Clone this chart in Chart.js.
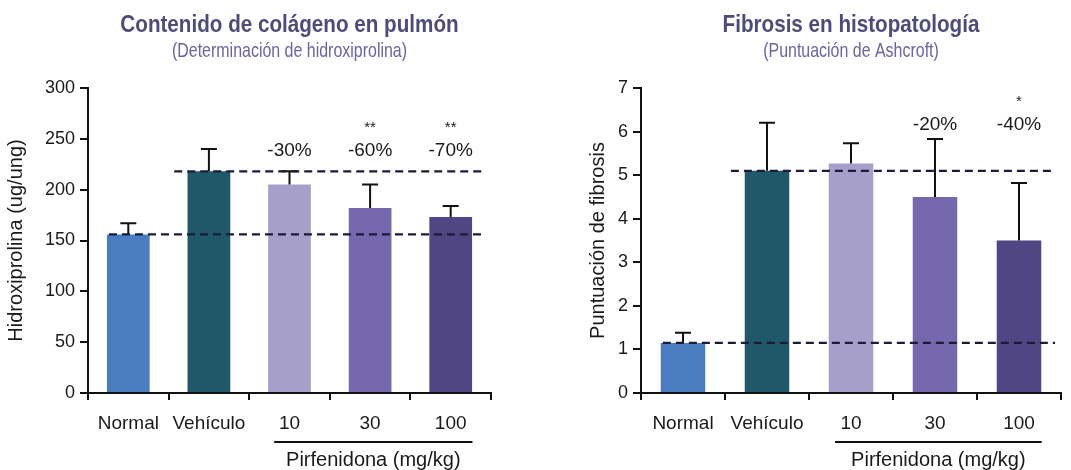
<!DOCTYPE html>
<html>
<head>
<meta charset="utf-8">
<script src="https://cdn.jsdelivr.net/npm/chart.js@4.4.0/dist/chart.umd.min.js"></script>
<style>
  body { margin: 0; background: #fff; }
  canvas { position: absolute; top: 0; }
  #izq { left: 0; }
  #der { left: 535px; }
</style>
</head>
<body>
<canvas id="izq" width="535" height="470"></canvas>
<canvas id="der" width="536" height="470"></canvas>
<script>
// valores
var categorias = ['Normal', 'Vehículo', '10', '30', '100'];

var hidroxMedia = [156, 218, 205, 182, 173];
var hidroxError = [11, 22, 13, 23, 11];
var hidroxPorc = ['', '', '-30%', '-60%', '-70%'];
var hidroxSig = ['', '', '', '**', '**'];
var hidroxTicks = [0, 50, 100, 150, 200, 250, 300];

var ashMedia = [1.15, 5.1, 5.27, 4.5, 3.5];
var ashError = [0.23, 1.1, 0.46, 1.33, 1.32];
var ashPorc = ['', '', '', '-20%', '-40%'];
var ashSig = ['', '', '', '', '*'];
var ashTicks = [0, 1, 2, 3, 4, 5, 6, 7];

var colores = ['#4a7cc1', '#1f5868', '#a69fc9', '#7568ad', '#4f4683'];
var fuente = '"Liberation Sans", Arial, sans-serif';

// texto "condensado" (no hay fuente narrow instalada)
function textoAngosto(ctx, txt, x, y, font, color, escala) {
    ctx.save();
    ctx.font = font;
    ctx.fillStyle = color;
    ctx.textAlign = 'center';
    ctx.textBaseline = 'alphabetic';
    ctx.translate(x, y);
    ctx.scale(escala, 1);
    ctx.fillText(txt, 0, 0);
    ctx.restore();
}

/**
 * Barras de error, lineas punteadas y textos extra
 */
var extras = {
    id: 'extras',
    afterDatasetsDraw: function(chart, args, opts) {
        var ctx = chart.ctx, x = chart.scales.x, y = chart.scales.y;
        var area = chart.chartArea;
        var paso = x.getPixelForValue(1) - x.getPixelForValue(0);
        ctx.save();
        ctx.strokeStyle = '#111';
        ctx.lineWidth = 2;
        opts.media.forEach(function(v, i) {
            var cx = x.getPixelForValue(i);
            var y0 = y.getPixelForValue(v);
            var y1 = y.getPixelForValue(v + opts.error[i]);
            ctx.beginPath();
            ctx.moveTo(cx, y0); ctx.lineTo(cx, y1);
            ctx.moveTo(cx - 8, y1); ctx.lineTo(cx + 8, y1);
            ctx.stroke();
        });
        // niveles de normal y vehiculo
        ctx.setLineDash([8, 5]);
        ctx.strokeStyle = '#1b1b38';
        ctx.lineWidth = 2.2;
        [[0, 0.24], [1, 0.43]].forEach(function(d) {
            var yy = y.getPixelForValue(opts.media[d[0]]);
            ctx.beginPath();
            ctx.moveTo(x.getPixelForValue(d[0]) - d[1] * paso, yy);
            ctx.lineTo(area.right - 6, yy);
            ctx.stroke();
        });
        ctx.restore();
    },
    afterDraw: function(chart, args, opts) {
        var ctx = chart.ctx, x = chart.scales.x, y = chart.scales.y;
        var area = chart.chartArea;
        var paso = x.getPixelForValue(1) - x.getPixelForValue(0);
        var tope = Math.max.apply(null, opts.media.map(function(v, i) { return v + opts.error[i]; }));
        var yp = y.getPixelForValue(tope) + 2;
        var centro = (area.left + area.right) / 2;

        textoAngosto(ctx, opts.titulo, centro, 32, 'bold 24px ' + fuente, '#4e4a7c', 0.86);
        textoAngosto(ctx, opts.subtitulo, centro, 57, '21px ' + fuente, '#6a64a0', 0.76);

        ctx.save();
        ctx.fillStyle = '#1a1a1a';
        ctx.textAlign = 'center';
        ctx.textBaseline = 'middle';
        opts.porc.forEach(function(t, i) {
            if (!t) return;
            ctx.font = '19px ' + fuente;
            ctx.fillText(t, x.getPixelForValue(i), yp);
        });
        opts.sig.forEach(function(t, i) {
            if (!t) return;
            ctx.font = '15px ' + fuente;
            ctx.fillText(t, x.getPixelForValue(i), yp - 23);
        });
        // grupo pirfenidona
        var xa = x.getPixelForValue(2) - 0.19 * paso;
        var xb = x.getPixelForValue(4) + 0.27 * paso;
        ctx.strokeStyle = '#111';
        ctx.lineWidth = 2;
        ctx.beginPath();
        ctx.moveTo(xa, area.bottom + 49);
        ctx.lineTo(xb, area.bottom + 49);
        ctx.stroke();
        ctx.font = '20px ' + fuente;
        ctx.fillText('Pirfenidona (mg/kg)', (xa + xb) / 2, area.bottom + 67);
        ctx.restore();
    }
};

function grafico(id, cfg) {
    return new Chart(document.getElementById(id), {
        type: 'bar',
        data: {
            labels: categorias,
            datasets: [{
                data: cfg.media,
                backgroundColor: colores,
                borderWidth: 0,
                barPercentage: 0.53,
                categoryPercentage: 1
            }]
        },
        plugins: [extras],
        options: {
            responsive: false,
            animation: false,
            layout: { padding: { left: 0, right: cfg.derecha, top: 88, bottom: 0 } },
            plugins: {
                legend: { display: false },
                tooltip: { enabled: false },
                extras: {
                    media: cfg.media, error: cfg.error, porc: cfg.porc, sig: cfg.sig,
                    titulo: cfg.titulo, subtitulo: cfg.subtitulo
                }
            },
            scales: {
                x: {
                    grid: { display: true, drawOnChartArea: false, offset: true, tickLength: 7, color: '#111', lineWidth: 2 },
                    border: { color: '#111', width: 2 },
                    ticks: { color: '#1a1a1a', font: { family: fuente, size: 19 }, padding: 12 },
                    afterFit: function(s) { s.height = 77; }
                },
                y: {
                    min: 0,
                    max: cfg.ticks[cfg.ticks.length - 1],
                    grid: { drawOnChartArea: false, tickLength: 8, color: '#111', lineWidth: 2 },
                    border: { color: '#111', width: 2 },
                    ticks: { color: '#1a1a1a', font: { family: fuente, size: 18 }, padding: 5 },
                    title: {
                        display: true, text: cfg.tituloY, color: '#1a1a1a',
                        font: { family: fuente, size: 20 },
                        padding: { top: cfg.tituloYpad, bottom: 0 }
                    },
                    afterBuildTicks: function(s) {
                        s.ticks = cfg.ticks.map(function(v) { return { value: v }; });
                    },
                    afterFit: function(s) { s.width = cfg.anchoY; }
                }
            }
        }
    });
}

grafico('izq', {
    media: hidroxMedia, error: hidroxError, porc: hidroxPorc, sig: hidroxSig, ticks: hidroxTicks,
    titulo: 'Contenido de colágeno en pulmón',
    subtitulo: '(Determinación de hidroxiprolina)',
    tituloY: 'Hidroxiprolina (ug/ung)',
    anchoY: 88, tituloYpad: 4, derecha: 44
});

grafico('der', {
    media: ashMedia, error: ashError, porc: ashPorc, sig: ashSig, ticks: ashTicks,
    titulo: 'Fibrosis en histopatología',
    subtitulo: '(Puntuación de Ashcroft)',
    tituloY: 'Puntuación de fibrosis',
    anchoY: 106, tituloYpad: 51, derecha: 10
});
</script>
</body>
</html>
